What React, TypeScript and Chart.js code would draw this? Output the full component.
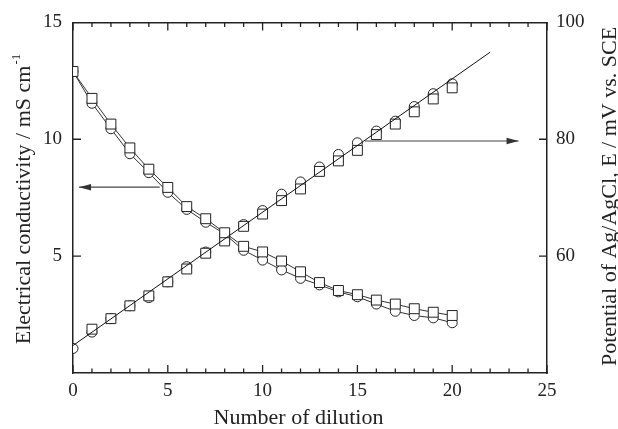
import React, { useEffect, useRef } from 'react';
import { Chart, registerables } from 'chart.js';
Chart.register(...registerables);

// ---- data ----
const dilution = [0, 1, 2, 3, 4, 5, 6, 7, 8, 9, 10, 11, 12, 13, 14, 15, 16, 17, 18, 19, 20];
const condCircle = [12.9, 11.54, 10.45, 9.38, 8.57, 7.73, 7.0, 6.45, 5.95, 5.25, 4.83, 4.41, 4.05, 3.77, 3.47, 3.26, 2.95, 2.64, 2.46, 2.36, 2.15];
const condSquare = [12.9, 11.75, 10.65, 9.63, 8.72, 7.94, 7.12, 6.6, 6.0, 5.42, 5.18, 4.79, 4.33, 3.87, 3.53, 3.35, 3.12, 2.95, 2.75, 2.6, 2.46];
const potCircle = [44.2, 47.0, 49.3, 51.5, 52.9, 55.6, 58.2, 60.7, 62.8, 65.4, 67.8, 70.6, 72.7, 75.25, 77.4, 79.4, 81.4, 83.1, 85.6, 87.8, 89.5];
const potSquare: (number | null)[] = [null, 47.5, 49.3, 51.5, 53.2, 55.6, 57.8, 60.5, 62.6, 65.1, 67.2, 69.5, 71.5, 74.5, 76.3, 78.1, 80.8, 82.6, 84.7, 86.9, 88.8];
const fitX = [0, 22];
const fitY = [44.7, 94.9];
const leftArrowX = [4.57, 0.32];
const leftArrowY = [7.95, 7.95];
const rightArrowX = [15.4, 23.5];
const rightArrowY = [79.7, 79.7];
const xMin = 0, xMax = 25, xStep = 5;
const leftMin = 0, leftMax = 15, leftStep = 5;
const rightMin = 40, rightMax = 100, rightStep = 20;
const xTitle = 'Number of dilution';
const leftTitle = 'Electrical conductivity / mS cm';
const leftTitleSup = '-1';
const rightTitle = 'Potential of Ag/AgCl, E / mV vs. SCE';

const FONT = "'Liberation Serif', 'Times New Roman', serif";
const INK = '#222';

const toPts = (xs: number[], ys: (number | null)[]) =>
  xs.map((x, i) => ({ x, y: ys[i] })).filter(p => p.y !== null) as { x: number; y: number }[];

const decorPlugin = {
  id: 'decor',
  afterDatasetsDraw(chart: any) {
    const ctx = chart.ctx;
    const { left, right, top, bottom } = chart.chartArea;
    const xs = chart.scales.x;
    const yl = chart.scales.y;
    const yr = chart.scales.y1;
    ctx.save();
    ctx.strokeStyle = INK;
    ctx.lineWidth = 1.3;
    ctx.beginPath();
    for (let v = xMin; v <= xMax; v += 1) {
      const px = xs.getPixelForValue(v);
      const len = v % xStep === 0 ? 8 : 4.5;
      ctx.moveTo(px, bottom);
      ctx.lineTo(px, bottom - len);
      ctx.moveTo(px, top);
      ctx.lineTo(px, top + len);
    }
    for (let v = leftMin + leftStep; v < leftMax; v += leftStep) {
      const py = yl.getPixelForValue(v);
      ctx.moveTo(left, py);
      ctx.lineTo(left + 8, py);
    }
    for (let v = rightMin + rightStep; v < rightMax; v += rightStep) {
      const py = yr.getPixelForValue(v);
      ctx.moveTo(right, py);
      ctx.lineTo(right - 8, py);
    }
    ctx.stroke();

    // arrowheads
    chart.data.datasets.forEach((ds: any, i: number) => {
      if (!ds.isArrow) return;
      const meta = chart.getDatasetMeta(i);
      const pts = meta.data;
      if (pts.length < 2) return;
      const a = pts[pts.length - 2];
      const b = pts[pts.length - 1];
      const ang = Math.atan2(b.y - a.y, b.x - a.x);
      const L = 12, W = 3.2;
      ctx.save();
      ctx.translate(b.x, b.y);
      ctx.rotate(ang);
      ctx.fillStyle = '#333';
      ctx.beginPath();
      ctx.moveTo(0, 0);
      ctx.lineTo(-L, -W);
      ctx.lineTo(-L, W);
      ctx.closePath();
      ctx.fill();
      ctx.restore();
    });
    ctx.restore();
  },
  afterDraw(chart: any) {
    const ctx = chart.ctx;
    ctx.save();
    ctx.fillStyle = INK;
    ctx.font = `22px ${FONT}`;
    // x title
    ctx.textAlign = 'center';
    ctx.textBaseline = 'alphabetic';
    ctx.fillText(xTitle, 298.5, 424);
    // left title (rotated, reading upward)
    ctx.save();
    ctx.translate(30, 199);
    ctx.rotate(-Math.PI / 2);
    const mainW = ctx.measureText(leftTitle).width;
    ctx.font = `13px ${FONT}`;
    const supW = ctx.measureText(leftTitleSup).width;
    const total = mainW + supW + 1;
    ctx.font = `22px ${FONT}`;
    ctx.textAlign = 'left';
    ctx.fillText(leftTitle, -total / 2, 0);
    ctx.font = `13px ${FONT}`;
    ctx.fillText(leftTitleSup, -total / 2 + mainW + 1, -10);
    ctx.restore();
    // right title (rotated, reading upward)
    ctx.save();
    ctx.translate(616, 196.5);
    ctx.rotate(-Math.PI / 2);
    ctx.font = `22px ${FONT}`;
    ctx.textAlign = 'center';
    ctx.fillText(rightTitle, 0, 0);
    ctx.restore();
    ctx.restore();
  },
};

export default function App() {
  const ref = useRef<HTMLCanvasElement | null>(null);
  useEffect(() => {
    if (!ref.current) return;
    const marker = {
      borderColor: INK,
      pointBorderColor: INK,
      pointBackgroundColor: '#fff',
      pointBorderWidth: 1,
      pointHoverRadius: 5,
      clip: 0,
    };
    const chart = new Chart(ref.current, {
      type: 'line',
      data: {
        datasets: [
          {
            label: 'fit',
            data: toPts(fitX, fitY),
            yAxisID: 'y1',
            borderColor: '#111',
            borderWidth: 1,
            pointRadius: 0,
            order: -1,
            clip: 0,
          } as any,
          {
            label: 'arrowL',
            isArrow: true,
            data: toPts(leftArrowX, leftArrowY),
            yAxisID: 'y',
            borderColor: '#444',
            borderWidth: 1.2,
            pointRadius: 0,
            order: -1,
          },
          {
            label: 'arrowR',
            isArrow: true,
            data: toPts(rightArrowX, rightArrowY),
            yAxisID: 'y1',
            borderColor: '#444',
            borderWidth: 1.2,
            pointRadius: 0,
            order: -1,
          },
          {
            label: 'cond square',
            data: toPts(dilution, condSquare),
            yAxisID: 'y',
            ...marker,
            borderColor: '#333',
            borderWidth: 1,
            pointStyle: 'rect',
            pointRadius: 7,
            order: 1,
          },
          {
            label: 'cond circle',
            data: toPts(dilution, condCircle),
            yAxisID: 'y',
            ...marker,
            borderColor: '#333',
            borderWidth: 1,
            pointStyle: 'circle',
            pointRadius: 5,
            order: 2,
          },
          {
            label: 'pot square',
            data: toPts(dilution, potSquare),
            yAxisID: 'y1',
            ...marker,
            showLine: false,
            pointStyle: 'rect',
            pointRadius: 7,
            order: 1,
          },
          {
            label: 'pot circle',
            data: toPts(dilution, potCircle),
            yAxisID: 'y1',
            ...marker,
            showLine: false,
            pointStyle: 'circle',
            pointRadius: 5,
            order: 2,
          },
        ] as any,
      },
      options: {
        responsive: false,
        animation: false,
        events: [],
        layout: { padding: 0 },
        plugins: { legend: { display: false }, tooltip: { enabled: false } },
        scales: {
          x: {
            type: 'linear',
            position: 'bottom',
            min: xMin,
            max: xMax,
            grid: { display: false, drawTicks: false },
            border: { display: true, color: INK, width: 1.5 },
            ticks: { stepSize: xStep, padding: 7, color: INK, font: { family: FONT, size: 19 } },
            afterFit: (s: any) => { s.height = 56; },
          },
          x2: {
            type: 'linear',
            position: 'top',
            min: xMin,
            max: xMax,
            grid: { display: false, drawTicks: false },
            border: { display: true, color: INK, width: 1.5 },
            ticks: { display: false },
            afterFit: (s: any) => { s.height = 20; },
          },
          y: {
            type: 'linear',
            position: 'left',
            min: leftMin,
            max: leftMax,
            grid: { display: false, drawTicks: false },
            border: { display: true, color: INK, width: 1.5 },
            ticks: {
              stepSize: leftStep,
              padding: 11,
              color: INK,
              font: { family: FONT, size: 19 },
              callback: (v: any) => (v === leftMin ? '' : String(v)),
            },
            afterFit: (s: any) => { s.width = 73; },
          },
          y1: {
            type: 'linear',
            position: 'right',
            min: rightMin,
            max: rightMax,
            grid: { display: false, drawTicks: false },
            border: { display: true, color: INK, width: 1.5 },
            ticks: {
              stepSize: rightStep,
              padding: 9,
              color: INK,
              font: { family: FONT, size: 19 },
              callback: (v: any) => (v === rightMin ? '' : String(v)),
            },
            afterFit: (s: any) => { s.width = 71; },
          },
        },
      } as any,
      plugins: [decorPlugin],
    });
    return () => chart.destroy();
  }, []);
  return (
    <div style={{ position: 'fixed', left: 0, top: 0, width: 618, height: 429, background: '#fff' }}>
      <canvas ref={ref} width={618} height={429} style={{ width: 618, height: 429, display: 'block' }} />
    </div>
  );
}
